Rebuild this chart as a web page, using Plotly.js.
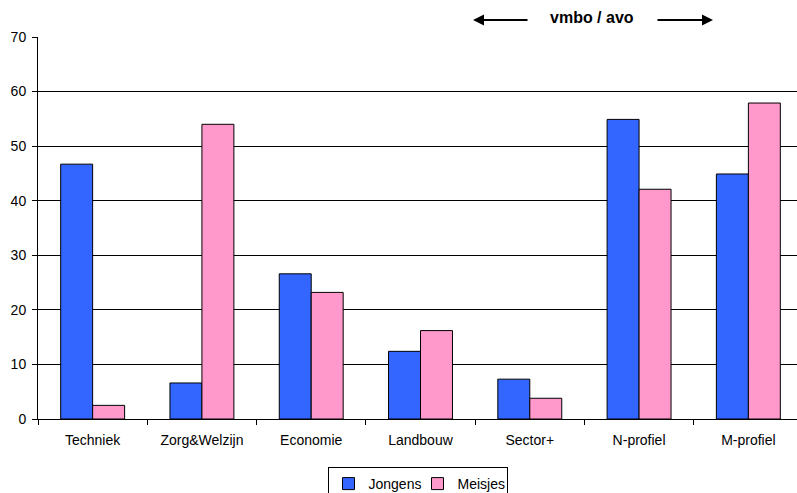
<!DOCTYPE html>
<html>
<head>
<meta charset="utf-8">
<script src="https://cdn.plot.ly/plotly-3.0.1.min.js"></script>
<style>html,body{margin:0;padding:0;background:#fff;}#chart{width:797px;height:493px;}</style>
</head>
<body>
<div id="chart"></div>
<script>
const categories = ["Techniek", "Zorg&Welzijn", "Economie", "Landbouw", "Sector+", "N-profiel", "M-profiel"];
const jongens = [46.7, 6.6, 26.6, 12.4, 7.3, 54.9, 44.9];
const meisjes = [2.5, 54.0, 23.2, 16.2, 3.8, 42.1, 57.9];
const yTicks = [0, 10, 20, 30, 40, 50, 60, 70];

const W = 797, H = 493, L = 38, R = 0, T = 37, B = 74;
const pw = W - L - R, ph = H - T - B;
const px2x = p => (p - L) / pw;
const px2y = p => (H - B - p) / ph;

const traces = [
  {type: 'bar', name: 'Jongens', x: categories, y: jongens,
   marker: {color: '#3366FF', line: {color: '#000', width: 1}}},
  {type: 'bar', name: 'Meisjes', x: categories, y: meisjes,
   marker: {color: '#FF99CC', line: {color: '#000', width: 1}}}
];

const layout = {
  width: W, height: H,
  margin: {l: L, r: R, t: T, b: B, pad: 0, autoexpand: false},
  paper_bgcolor: '#fff', plot_bgcolor: '#fff',
  font: {family: 'Liberation Sans, Arial, sans-serif', color: '#000', size: 14},
  barmode: 'group', bargap: 0.415, bargroupgap: 0,
  showlegend: true,
  legend: {orientation: 'h', x: 0.5, xanchor: 'center', xref: 'paper',
           y: px2y(467), yanchor: 'top', bordercolor: '#000', borderwidth: 1,
           font: {size: 14}, itemwidth: 30, entrywidth: 44, entrywidthmode: 'pixels',
           tracegroupgap: 0, bgcolor: '#fff'},
  xaxis: {type: 'category', range: [-0.5, 6.5 - 6 / 109.3], showgrid: false,
          showline: true, linecolor: '#000', linewidth: 1,
          ticks: 'outside', tickson: 'boundaries', ticklen: 5, tickcolor: '#000',
          tickfont: {size: 14}, ticklabelstandoff: 8, fixedrange: true},
  yaxis: {range: [0, 70], tickvals: yTicks, ticktext: yTicks.map(String),
          showgrid: true, gridcolor: '#000', gridwidth: 1,
          showline: true, linecolor: '#000', linewidth: 1,
          ticks: 'outside', ticklen: 5, tickcolor: '#000',
          tickfont: {size: 14}, ticklabelstandoff: 3, zeroline: false, fixedrange: true},
  annotations: [
    {xref: 'paper', yref: 'paper', x: px2x(592), y: px2y(18), text: '<b>vmbo / avo</b>',
     showarrow: false, font: {size: 16}, xanchor: 'center', yanchor: 'middle'},
    {xref: 'paper', yref: 'paper', x: px2x(473), y: px2y(20), text: '',
     showarrow: true, ax: 56, ay: 0, arrowhead: 2, arrowsize: 1.1, arrowwidth: 2, arrowcolor: '#000'},
    {xref: 'paper', yref: 'paper', x: px2x(713), y: px2y(20), text: '',
     showarrow: true, ax: -57, ay: 0, arrowhead: 2, arrowsize: 1.1, arrowwidth: 2, arrowcolor: '#000'}
  ]
};

Plotly.newPlot('chart', traces, layout, {displayModeBar: false, staticPlot: true});
</script>
</body>
</html>
